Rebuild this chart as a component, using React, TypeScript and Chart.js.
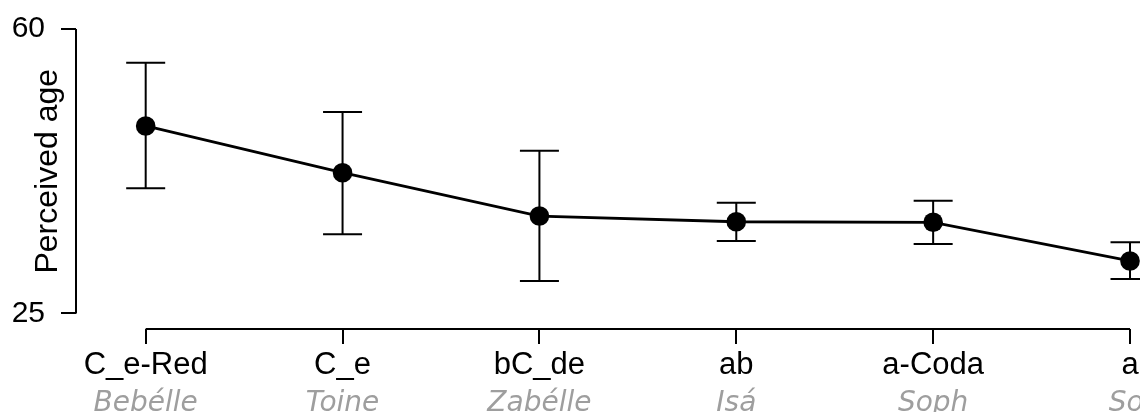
import React, { useEffect, useRef } from "react";
import { Chart, registerables } from "chart.js";

Chart.register(...registerables);

const categories = ["C_e-Red", "C_e", "bC_de", "ab", "a-Coda", "a"];
const speakers = ["Bebélle", "Toine", "Zabélle", "Isá", "Soph", "Sol"];
const means = [48.07, 42.32, 36.99, 36.29, 36.22, 31.46];
const upper = [55.85, 49.79, 45.03, 38.63, 38.88, 33.76];
const lower = [40.4, 34.74, 29.0, 33.92, 33.55, 29.25];
const yTicks = [25, 60];
const yTitle = "Perceived age";

const MAIN_FONT = '"Liberation Sans", Arial, sans-serif';
const SUB_FONT = '"DejaVu Sans", sans-serif';

const decorPlugin = {
  id: "decor",
  beforeDatasetsDraw(chart: any) {
    const { ctx, chartArea, scales } = chart;
    const x = scales.x;
    const y = scales.y;
    ctx.save();
    ctx.strokeStyle = "#000";
    ctx.lineWidth = 2;
    ctx.lineCap = "butt";
    // detached y axis line
    ctx.beginPath();
    ctx.moveTo(chartArea.left, y.getPixelForValue(yTicks[0]));
    ctx.lineTo(chartArea.left, y.getPixelForValue(yTicks[yTicks.length - 1]));
    ctx.stroke();
    // detached x axis line
    ctx.beginPath();
    ctx.moveTo(x.getPixelForValue(0), chartArea.bottom);
    ctx.lineTo(x.getPixelForValue(categories.length - 1), chartArea.bottom);
    ctx.stroke();
    // error bars
    const cap = 19.5;
    for (let i = 0; i < categories.length; i++) {
      const px = x.getPixelForValue(i);
      const yu = y.getPixelForValue(upper[i]);
      const yl = y.getPixelForValue(lower[i]);
      ctx.beginPath();
      ctx.moveTo(px, yu);
      ctx.lineTo(px, yl);
      ctx.moveTo(px - cap, yu);
      ctx.lineTo(px + cap, yu);
      ctx.moveTo(px - cap, yl);
      ctx.lineTo(px + cap, yl);
      ctx.stroke();
    }
    ctx.restore();
  },
  afterDraw(chart: any) {
    const { ctx, scales } = chart;
    const x = scales.x;
    const y = scales.y;
    ctx.save();
    // sub labels
    ctx.fillStyle = "#9e9e9e";
    ctx.font = `oblique 28px ${SUB_FONT}`;
    ctx.textAlign = "center";
    ctx.textBaseline = "alphabetic";
    for (let i = 0; i < speakers.length; i++) {
      ctx.fillText(speakers[i], x.getPixelForValue(i), 411);
    }
    // y title
    const cy = (y.getPixelForValue(yTicks[0]) + y.getPixelForValue(yTicks[1])) / 2;
    ctx.translate(57, cy);
    ctx.rotate(-Math.PI / 2);
    ctx.fillStyle = "#000";
    ctx.font = `32px ${MAIN_FONT}`;
    ctx.textAlign = "center";
    ctx.textBaseline = "alphabetic";
    ctx.fillText(yTitle, 0, 0);
    ctx.restore();
  },
};

export default function App() {
  const ref = useRef<HTMLCanvasElement | null>(null);

  useEffect(() => {
    document.body.style.margin = "0";
    if (!ref.current) return;
    const chart = new Chart(ref.current, {
      type: "scatter",
      data: {
        datasets: [
          {
            data: means.map((m, i) => ({ x: i, y: m })),
            showLine: true,
            borderColor: "#000",
            borderWidth: 2.8,
            pointRadius: 9.8,
            pointHoverRadius: 9.8,
            pointBackgroundColor: "#000",
            pointBorderWidth: 0,
            clip: false as any,
          },
        ],
      },
      options: {
        animation: false,
        responsive: false,
        devicePixelRatio: 1,
        events: [],
        layout: { autoPadding: false, padding: { top: 29, left: 0, right: 0, bottom: 0 } },
        plugins: {
          legend: { display: false },
          tooltip: { enabled: false },
          title: { display: false },
        },
        scales: {
          x: {
            type: "linear",
            position: "bottom",
            min: -0.354,
            max: 5.3555,
            afterBuildTicks: (scale: any) => {
              scale.ticks = categories.map((_, i) => ({ value: i }));
            },
            afterFit: (scale: any) => {
              scale.height = 83;
              scale.paddingLeft = 0;
              scale.paddingRight = 0;
            },
            ticks: {
              autoSkip: false,
              maxRotation: 0,
              minRotation: 0,
              padding: 3,
              color: "#000",
              font: { family: MAIN_FONT, size: 31 },
              callback: (v: any) => categories[v as number] ?? "",
            },
            grid: {
              display: true,
              drawOnChartArea: false,
              drawTicks: true,
              tickLength: 15,
              color: "#000",
              lineWidth: 2,
            },
            border: { display: false },
          },
          y: {
            type: "linear",
            position: "left",
            min: 23.093,
            max: 60,
            afterBuildTicks: (scale: any) => {
              scale.ticks = yTicks.map((v) => ({ value: v }));
            },
            afterFit: (scale: any) => {
              scale.width = 76;
              scale.paddingTop = 0;
              scale.paddingBottom = 0;
            },
            ticks: {
              padding: 16,
              color: "#000",
              font: { family: MAIN_FONT, size: 30 },
              callback: (v: any) => String(v),
            },
            grid: {
              display: true,
              drawOnChartArea: false,
              drawTicks: true,
              tickLength: 15,
              color: "#000",
              lineWidth: 2,
            },
            border: { display: false },
          },
        },
      },
      plugins: [decorPlugin],
    });
    return () => chart.destroy();
  }, []);

  return (
    <div style={{ width: 1140, height: 412, overflow: "hidden", background: "#fff" }}>
      <canvas ref={ref} width={1200} height={412} style={{ width: 1200, height: 412, display: "block" }} />
    </div>
  );
}
